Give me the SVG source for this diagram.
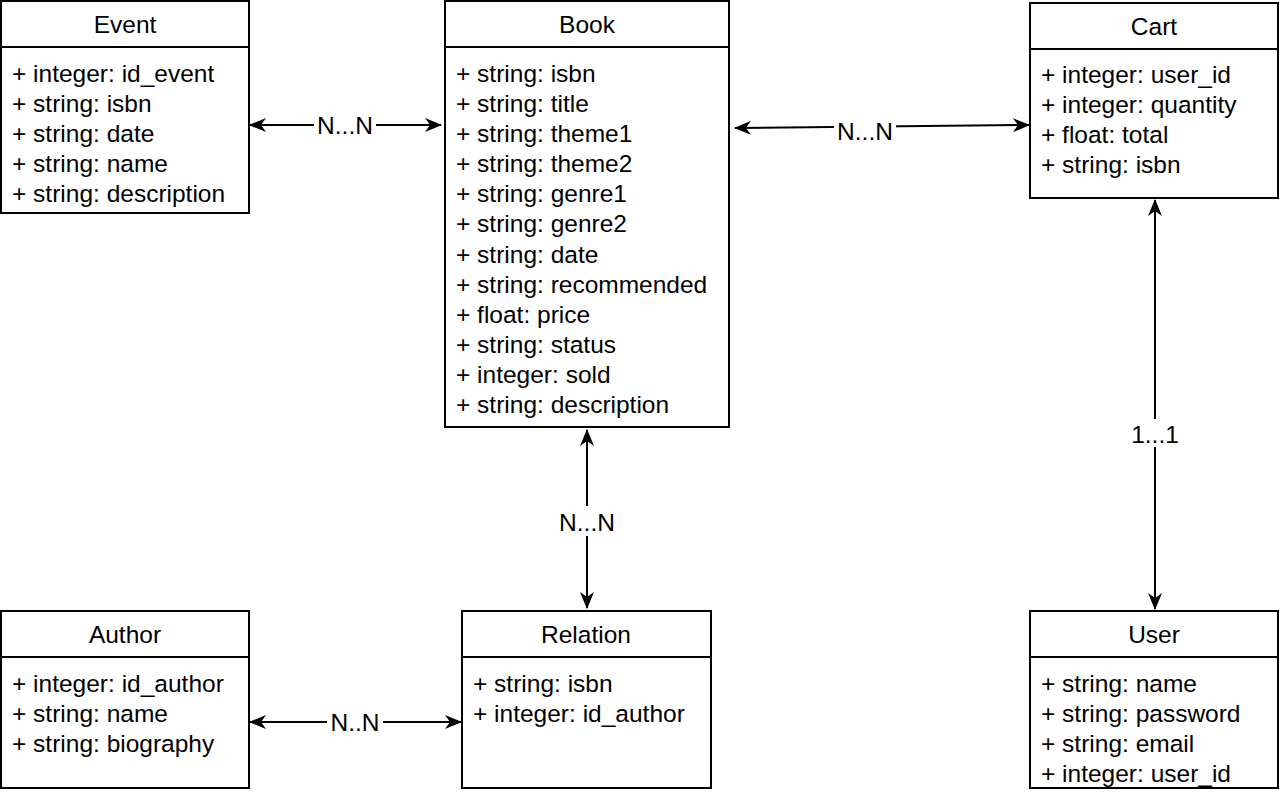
<svg xmlns="http://www.w3.org/2000/svg" width="1280" height="795" viewBox="0 0 1280 795">
<style>
.box{fill:#fff;stroke:#000;stroke-width:2}
.sep{stroke:#000;stroke-width:2}
text{font-family:"Liberation Sans",Arial,sans-serif;font-size:24.5px;fill:#000}
.t{text-anchor:middle}
.c{stroke:#000;stroke-width:2;fill:none}
.lbl{fill:#fff}
</style>
<defs>
<marker id="ah" viewBox="0 0 17 14" refX="16" refY="7" markerWidth="17" markerHeight="14" markerUnits="userSpaceOnUse" orient="auto-start-reverse">
<path d="M0,0 L17,7 L0,14 L5,7 Z" fill="#000"/>
</marker>
</defs>
<rect width="1280" height="795" fill="#fff"/>
<g id="connectors">
<line class="c" x1="250" y1="125" x2="441" y2="125" marker-start="url(#ah)" marker-end="url(#ah)"/>
<rect class="lbl" x="314" y="112" width="62" height="26"/>
<text class="t" x="345" y="134">N...N</text>
<line class="c" x1="735" y1="128" x2="1029" y2="125" marker-start="url(#ah)" marker-end="url(#ah)"/>
<rect class="lbl" x="834" y="116" width="62" height="28"/>
<text class="t" x="865" y="140">N...N</text>
<line class="c" x1="587" y1="430" x2="587" y2="608" marker-start="url(#ah)" marker-end="url(#ah)"/>
<rect class="lbl" x="555" y="506" width="64" height="30"/>
<text class="t" x="587" y="531">N...N</text>
<line class="c" x1="1155" y1="200" x2="1155" y2="609" marker-start="url(#ah)" marker-end="url(#ah)"/>
<rect class="lbl" x="1126" y="419" width="58" height="28"/>
<text class="t" x="1155" y="443">1...1</text>
<line class="c" x1="250" y1="722" x2="461" y2="722" marker-start="url(#ah)" marker-end="url(#ah)"/>
<rect class="lbl" x="327" y="709" width="56" height="26"/>
<text class="t" x="355" y="731">N..N</text>
</g>
<g id="event">
<rect class="box" x="1" y="1" width="248" height="212"/>
<line class="sep" x1="1" y1="47" x2="249" y2="47"/>
<text class="t" x="125" y="33">Event</text>
<text x="12" y="82">+ integer: id_event</text>
<text x="12" y="112">+ string: isbn</text>
<text x="12" y="142">+ string: date</text>
<text x="12" y="172">+ string: name</text>
<text x="12" y="202">+ string: description</text>
</g>
<g id="book">
<rect class="box" x="445" y="1" width="284" height="426"/>
<line class="sep" x1="445" y1="47" x2="729" y2="47"/>
<text class="t" x="587" y="33">Book</text>
<text x="456" y="82">+ string: isbn</text>
<text x="456" y="112">+ string: title</text>
<text x="456" y="142">+ string: theme1</text>
<text x="456" y="172">+ string: theme2</text>
<text x="456" y="202">+ string: genre1</text>
<text x="456" y="232">+ string: genre2</text>
<text x="456" y="263">+ string: date</text>
<text x="456" y="293">+ string: recommended</text>
<text x="456" y="323">+ float: price</text>
<text x="456" y="353">+ string: status</text>
<text x="456" y="383">+ integer: sold</text>
<text x="456" y="413">+ string: description</text>
</g>
<g id="cart">
<rect class="box" x="1030" y="3" width="248" height="195"/>
<line class="sep" x1="1030" y1="49" x2="1278" y2="49"/>
<text class="t" x="1154" y="35">Cart</text>
<text x="1041" y="83">+ integer: user_id</text>
<text x="1041" y="113">+ integer: quantity</text>
<text x="1041" y="143">+ float: total</text>
<text x="1041" y="173">+ string: isbn</text>
</g>
<g id="author">
<rect class="box" x="1" y="611" width="248" height="177"/>
<line class="sep" x1="1" y1="657" x2="249" y2="657"/>
<text class="t" x="125" y="643">Author</text>
<text x="12" y="692">+ integer: id_author</text>
<text x="12" y="722">+ string: name</text>
<text x="12" y="752">+ string: biography</text>
</g>
<g id="relation">
<rect class="box" x="462" y="611" width="249" height="177"/>
<line class="sep" x1="462" y1="657" x2="711" y2="657"/>
<text class="t" x="586" y="643">Relation</text>
<text x="473" y="692">+ string: isbn</text>
<text x="473" y="722">+ integer: id_author</text>
</g>
<g id="user">
<rect class="box" x="1030" y="611" width="248" height="177"/>
<line class="sep" x1="1030" y1="657" x2="1278" y2="657"/>
<text class="t" x="1154" y="643">User</text>
<text x="1041" y="692">+ string: name</text>
<text x="1041" y="722">+ string: password</text>
<text x="1041" y="752">+ string: email</text>
<text x="1041" y="782">+ integer: user_id</text>
</g>
</svg>
